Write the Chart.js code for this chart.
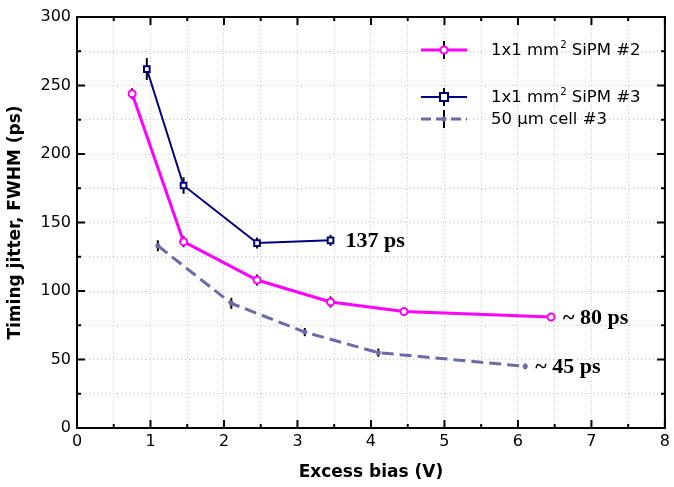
<!DOCTYPE html>
<html>
<head>
<meta charset="utf-8">
<script src="https://cdn.jsdelivr.net/npm/chart.js@4.4.1/dist/chart.umd.min.js"></script>
<style>
  html, body { margin: 0; padding: 0; background: #fff; }
  #wrap { width: 674px; height: 487px; }
</style>
</head>
<body>
<div id="wrap"><canvas id="c" width="674" height="487"></canvas></div>
<script>
// data
const biasSipm2 = [0.75, 1.45, 2.45, 3.45, 4.45, 6.45];
const jitterSipm2 = [244, 136, 108, 92, 85, 81];
const errSipm2 = [4, 4, 4, 4, 3, 3];

const biasSipm3 = [0.95, 1.45, 2.45, 3.45];
const jitterSipm3 = [262, 177, 135, 137];
const errSipm3 = [8, 6, 4, 4];

const biasCell3 = [1.1, 2.1, 3.1, 4.1, 6.1];
const jitterCell3 = [133, 91, 70, 55, 45];
const errCell3 = [4, 4, 3, 3, 2];

// legend labels, split round the superscript
const legendLabels = [
  ['1x1 mm', '2', ' SiPM #2'],
  ['1x1 mm', '2', ' SiPM #3'],
  ['50 µm cell #3', '', '']
];
const notes = [
  { text: '137 ps', x: 3.45, y: 137, dx: 15 },
  { text: '~ 80 ps', x: 6.45, y: 81, dx: 12 },
  { text: '~ 45 ps', x: 6.1, y: 45, dx: 10 }
];

const PINK = '#ff00ff', NAVY = '#00007f', SLATE = '#6a6aaa';
const FONT = '"DejaVu Sans", Verdana, sans-serif';

function pts(xs, ys) { return xs.map((x, i) => ({ x, y: ys[i] })); }

const errs = [errSipm2, errSipm3, errCell3];

const errorBars = {
  id: 'errorBars',
  beforeDatasetsDraw(chart) {
    const { ctx, scales: { x, y } } = chart;
    ctx.save();
    ctx.strokeStyle = '#000';
    ctx.lineWidth = 2;
    chart.data.datasets.forEach((ds, di) => {
      ds.data.forEach((p, i) => {
        const e = errs[di][i];
        const px = x.getPixelForValue(p.x);
        ctx.beginPath();
        ctx.moveTo(px, y.getPixelForValue(p.y - e));
        ctx.lineTo(px, y.getPixelForValue(p.y + e));
        ctx.stroke();
      });
    });
    ctx.restore();
  }
};

const frame = {
  id: 'frame',
  afterDraw(chart) {
    const { ctx, chartArea: a, scales: { x, y } } = chart;
    ctx.save();
    ctx.strokeStyle = '#000';
    ctx.lineWidth = 2;
    ctx.strokeRect(a.left, a.top, a.right - a.left, a.bottom - a.top);
    ctx.beginPath();
    for (let v = 0; v <= 8.001; v += 0.5) {
      const px = x.getPixelForValue(v);
      const len = Number.isInteger(v) ? 8 : 4;
      ctx.moveTo(px, a.bottom); ctx.lineTo(px, a.bottom - len);
      ctx.moveTo(px, a.top); ctx.lineTo(px, a.top + len);
    }
    for (let v = 0; v <= 300; v += 25) {
      const py = y.getPixelForValue(v);
      const len = v % 50 === 0 ? 8 : 4;
      ctx.moveTo(a.left, py); ctx.lineTo(a.left + len, py);
      ctx.moveTo(a.right, py); ctx.lineTo(a.right - len, py);
    }
    ctx.stroke();

    // legend
    const rows = [
      { y: 50, color: PINK, width: 3, dash: [], style: 'circle', fill: '#fff' },
      { y: 97, color: NAVY, width: 2, dash: [], style: 'rect', fill: '#fff' },
      { y: 119, color: SLATE, width: 3, dash: [10, 5], style: 'dot', fill: SLATE }
    ];
    rows.forEach((r, i) => {
      ctx.strokeStyle = '#000';
      ctx.lineWidth = 2;
      ctx.setLineDash([]);
      ctx.beginPath();
      ctx.moveTo(444, r.y - 9); ctx.lineTo(444, r.y + 9);
      ctx.stroke();
      ctx.strokeStyle = r.color;
      ctx.lineWidth = r.width;
      ctx.setLineDash(r.dash);
      ctx.beginPath();
      ctx.moveTo(421, r.y); ctx.lineTo(467, r.y);
      ctx.stroke();
      ctx.setLineDash([]);
      ctx.lineWidth = 2;
      ctx.fillStyle = r.fill;
      ctx.beginPath();
      if (r.style === 'circle') ctx.arc(444, r.y, 3.5, 0, Math.PI * 2);
      else if (r.style === 'rect') ctx.rect(440, r.y - 4, 8, 8);
      else ctx.arc(444, r.y, 2.5, 0, Math.PI * 2);
      ctx.fill();
      if (r.style !== 'dot') ctx.stroke();

      const [a1, sup, a2] = legendLabels[i];
      ctx.fillStyle = '#000';
      ctx.textBaseline = 'middle';
      ctx.textAlign = 'left';
      let tx = 491;
      ctx.font = '16.5px ' + FONT;
      ctx.fillText(a1, tx, r.y + 1);
      tx += ctx.measureText(a1).width;
      if (sup) {
        ctx.font = '10px ' + FONT;
        ctx.fillText(sup, tx + 1, r.y - 5);
        tx += ctx.measureText(sup).width + 1;
        ctx.font = '16.5px ' + FONT;
        ctx.fillText(a2, tx, r.y + 1);
      }
    });

    // annotations
    ctx.font = 'bold 22px "Liberation Serif", "Times New Roman", serif';
    notes.forEach(n => {
      ctx.fillText(n.text, x.getPixelForValue(n.x) + n.dx, y.getPixelForValue(n.y) + 1);
    });
    ctx.restore();
  }
};

new Chart(document.getElementById('c'), {
  type: 'scatter',
  data: {
    datasets: [
      {
        label: 'SiPM #2', data: pts(biasSipm2, jitterSipm2), showLine: true,
        borderColor: PINK, borderWidth: 3, pointStyle: 'circle', pointRadius: 3.5,
        pointBackgroundColor: '#fff', pointBorderColor: PINK, pointBorderWidth: 2
      },
      {
        label: 'SiPM #3', data: pts(biasSipm3, jitterSipm3), showLine: true,
        borderColor: NAVY, borderWidth: 2, pointStyle: 'rect', pointRadius: 4,
        pointBackgroundColor: '#fff', pointBorderColor: NAVY, pointBorderWidth: 2
      },
      {
        label: 'cell #3', data: pts(biasCell3, jitterCell3), showLine: true,
        borderColor: SLATE, borderWidth: 3, borderDash: [12, 6], pointStyle: 'circle', pointRadius: 2.5,
        pointBackgroundColor: SLATE, pointBorderColor: SLATE, pointBorderWidth: 0
      }
    ]
  },
  options: {
    responsive: false,
    animation: false,
    layout: { padding: { top: 17, right: 4 } },
    plugins: { legend: { display: false }, tooltip: { enabled: false } },
    scales: {
      x: {
        type: 'linear', min: 0, max: 8,
        afterFit: s => { s.height = 59; },
        ticks: {
          stepSize: 0.5, color: '#000', font: { family: FONT, size: 16 }, padding: 4, maxRotation: 0,
          callback: v => Number.isInteger(v) ? v : ''
        },
        grid: { color: '#c8c8c8', lineWidth: 1, drawTicks: false },
        border: { display: false, dash: [1, 3] },
        title: { display: true, text: 'Excess bias (V)', color: '#000', font: { family: FONT, size: 17, weight: 'bold' }, padding: { top: 4 } }
      },
      y: {
        min: 0, max: 300,
        afterFit: s => { s.width = 77; },
        ticks: {
          stepSize: 25, color: '#000', font: { family: FONT, size: 16 }, padding: 6,
          callback: v => v % 50 === 0 ? v : ''
        },
        grid: { color: '#c8c8c8', lineWidth: 1, drawTicks: false },
        border: { display: false, dash: [1, 3] },
        title: { display: true, text: 'Timing jitter, FWHM (ps)', color: '#000', font: { family: FONT, size: 17, weight: 'bold' }, padding: { top: 5, bottom: 0 } }
      }
    }
  },
  plugins: [errorBars, frame]
});
</script>
</body>
</html>
